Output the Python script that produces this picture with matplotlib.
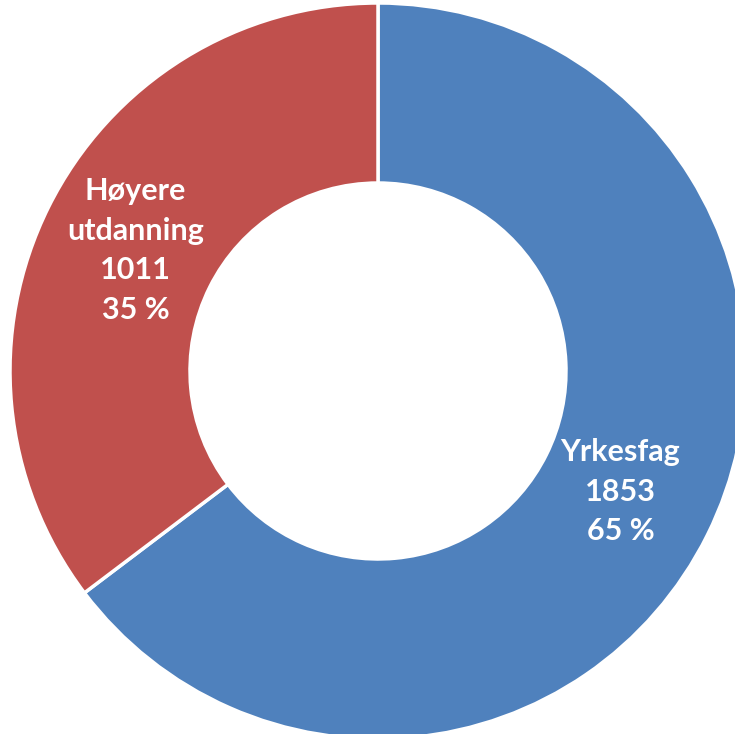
import matplotlib.pyplot as plt

categories = ["Yrkesfag", "Høyere\nutdanning"]
values = [1853, 1011]
colors = ["#4F81BD", "#C0504D"]

total = sum(values)
labels = [f"{c}\n{v}\n{round(100 * v / total)} %" for c, v in zip(categories, values)]

fig = plt.figure(figsize=(7.35, 7.34), dpi=100)
ax = fig.add_axes([0, 0, 1, 1])
ax.set_xlim(0, 735)
ax.set_ylim(0, 734)
ax.set_aspect("equal")
ax.axis("off")

ax.pie(values, colors=colors, labels=labels, startangle=90, counterclock=False,
       center=(378, 363), radius=368, labeldistance=0.736,
       wedgeprops=dict(width=180, edgecolor="white", linewidth=2.5),
       textprops=dict(color="white", fontsize=22, fontweight="bold", family="Lato",
                      ha="center", va="center", linespacing=1.5))
ax.set_xlim(0, 735)
ax.set_ylim(0, 734)

fig.savefig("out.png", dpi=100)
